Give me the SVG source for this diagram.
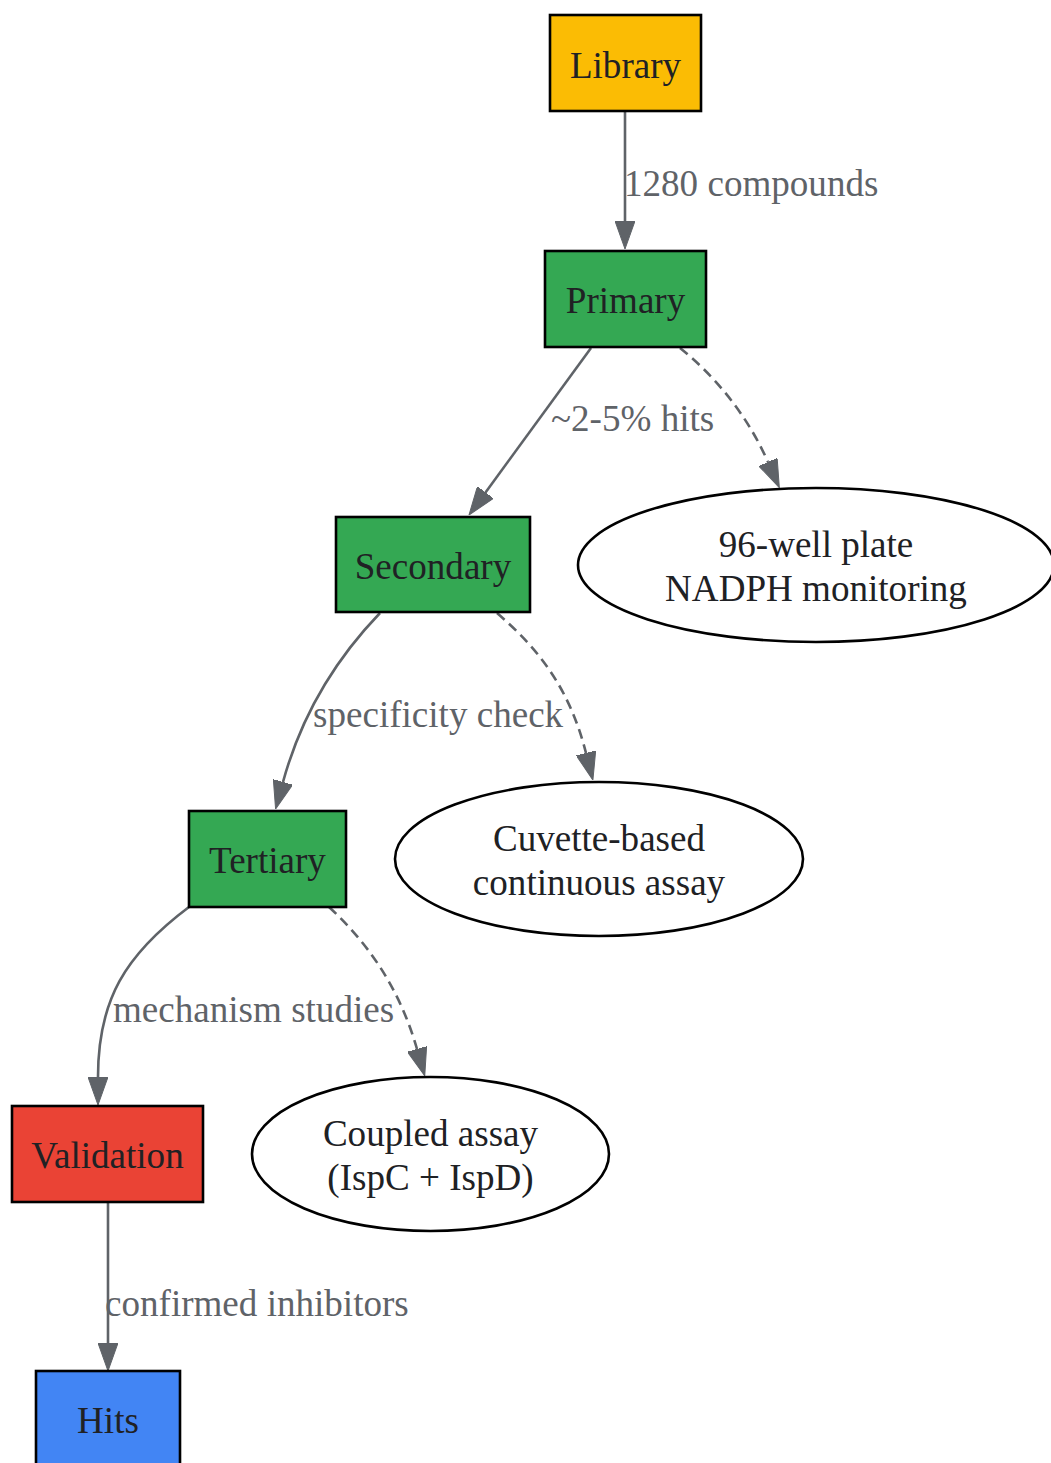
<svg xmlns="http://www.w3.org/2000/svg" width="1051" height="1463" viewBox="0 0 1051 1463">
<defs>
<style>
.box{stroke:#000;stroke-width:2.6}
.ell{fill:#fff;stroke:#000;stroke-width:2.6}
.nt{font-family:"Liberation Serif","Times New Roman",serif;font-size:37.1px;fill:#202124;text-anchor:middle}
.lt{font-family:"Liberation Serif","Times New Roman",serif;font-size:37.1px;fill:#5f6368}
.e{fill:none;stroke:#5f6368;stroke-width:2.6;marker-end:url(#ah)}
.d{stroke-dasharray:10,6}
</style>
<marker id="ah" markerUnits="userSpaceOnUse" markerWidth="28" markerHeight="20" refX="0" refY="10" orient="auto" viewBox="0 0 28 20">
<path d="M0,0 L28,10 L0,20 z" fill="#5f6368" stroke="#5f6368" stroke-width="1"/>
</marker>
</defs>
<rect width="1051" height="1463" fill="#fff"/>
<g id="edges">
<path class="e" d="M625,111 L625,221"/>
<path class="e" d="M591,348 L485.5,492.4"/>
<path class="e d" d="M680,348 C710,372 745,410 768,462"/>
<path class="e" d="M380,613 C330,665 300,720 283,782"/>
<path class="e d" d="M497,613 C540,650 570,690 586,753"/>
<path class="e" d="M189,907 C125,955 98,1000 98,1077"/>
<path class="e d" d="M329,907 C370,945 400,990 417,1049"/>
<path class="e" d="M108,1202 L108,1343"/>
<text class="lt" x="624" y="196">1280 compounds</text>
<text class="lt" x="551" y="431">~2-5% hits</text>
<text class="lt" x="313" y="727">specificity check</text>
<text class="lt" x="113" y="1022">mechanism studies</text>
<text class="lt" x="105" y="1316">confirmed inhibitors</text>
</g>
<g id="library"><rect class="box" x="550" y="15" width="151" height="96" fill="#FBBC04"/><text class="nt" x="625.5" y="78">Library</text></g>
<g id="primary"><rect class="box" x="545" y="251" width="161" height="96" fill="#34A853"/><text class="nt" x="625.5" y="313">Primary</text></g>
<g id="secondary"><rect class="box" x="336" y="517" width="194" height="95" fill="#34A853"/><text class="nt" x="433" y="579">Secondary</text></g>
<g id="assay96"><ellipse class="ell" cx="816" cy="565" rx="238" ry="77"/><text class="nt" x="816" y="557">96-well plate</text><text class="nt" x="816" y="601">NADPH monitoring</text></g>
<g id="tertiary"><rect class="box" x="189" y="811" width="157" height="96" fill="#34A853"/><text class="nt" x="267.5" y="873">Tertiary</text></g>
<g id="cuvette"><ellipse class="ell" cx="599" cy="859" rx="204" ry="77"/><text class="nt" x="599" y="851">Cuvette-based</text><text class="nt" x="599" y="895">continuous assay</text></g>
<g id="validation"><rect class="box" x="12" y="1106" width="191" height="96" fill="#EA4335"/><text class="nt" x="107.5" y="1168">Validation</text></g>
<g id="coupled"><ellipse class="ell" cx="430.5" cy="1154" rx="178.5" ry="77"/><text class="nt" x="430.5" y="1146">Coupled assay</text><text class="nt" x="430.5" y="1190">(IspC + IspD)</text></g>
<g id="hits"><rect class="box" x="36" y="1371" width="144" height="96" fill="#4285F4"/><text class="nt" x="108" y="1433">Hits</text></g>
</svg>
